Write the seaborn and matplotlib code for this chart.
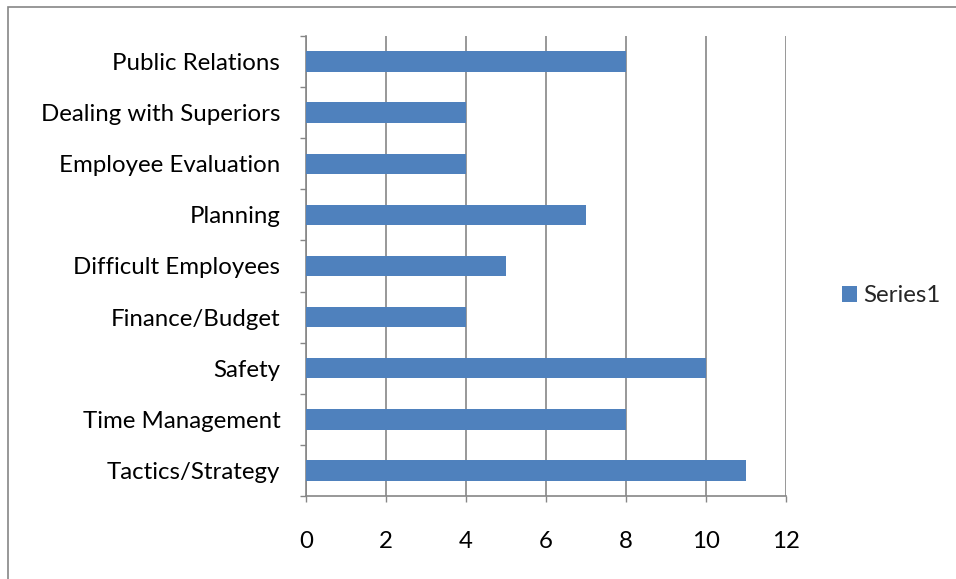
import matplotlib
matplotlib.use("Agg")
import matplotlib.pyplot as plt
import seaborn as sns
import pandas as pd
import numpy as np
from matplotlib.patches import Rectangle, Patch

# Training topics (top to bottom) and their counts
categories = ["Public Relations", "Dealing with Superiors", "Employee Evaluation",
              "Planning", "Difficult Employees", "Finance/Budget", "Safety",
              "Time Management", "Tactics/Strategy"]
values = [8, 4, 4, 7, 5, 4, 10, 8, 11]
x_ticks = [0, 2, 4, 6, 8, 10, 12]
series_name = "Series1"

bar_color = "#4F81BD"
grid_color = "#868686"
font_size = 17.3

sns.set_theme(style="white")
plt.rcParams["font.family"] = ["Lato", "DejaVu Sans"]

df = pd.DataFrame({"topic": categories, "count": values})

fig = plt.figure(figsize=(9.56, 5.79), dpi=100)
ax = fig.add_axes([306 / 956, 1 - 496 / 579, 480 / 956, 460 / 579])

sns.barplot(data=df, x="count", y="topic", order=categories, color=bar_color,
            width=0.4, saturation=1, linewidth=0, ax=ax, zorder=3)

ax.set_xlim(0, 12)
ax.set_ylim(len(categories) - 0.5, -0.5)
ax.set_xticks(x_ticks)
ax.set_xticklabels([str(t) for t in x_ticks], fontsize=font_size)
ax.set_yticks(range(len(categories)))
ax.set_yticklabels(categories, fontsize=font_size)
ax.set_xlabel("")
ax.set_ylabel("")

# Category separators as outward tick marks on the value axis
ax.set_yticks(np.arange(-0.5, len(categories) + 0.5, 1), minor=True)
ax.tick_params(axis="y", which="major", length=0, pad=18.5, colors="black")
ax.tick_params(axis="y", which="minor", left=True, length=4.5, width=1, color=grid_color)
ax.tick_params(axis="x", which="major", bottom=True, length=4.5, width=1,
               pad=20.5, labelcolor="black", color=grid_color)

ax.grid(axis="x", color=grid_color, linewidth=1.2, zorder=0)
ax.set_axisbelow(True)
for side in ["top", "right"]:
    ax.spines[side].set_visible(False)
for side in ["left", "bottom"]:
    ax.spines[side].set_color(grid_color)
    ax.spines[side].set_linewidth(1.2)

# Legend to the right of the plot
handle = Patch(facecolor=bar_color, edgecolor="none")
fig.legend([handle], [series_name], loc="center left",
           bbox_to_anchor=(842 / 956, 1 - 296 / 579), frameon=False,
           fontsize=font_size, handlelength=0.62, handleheight=0.62,
           handletextpad=0.28, borderpad=0, borderaxespad=0)

# Chart-area border
fig.patches.append(Rectangle((8 / 956, -0.1), 1.2, 1 - 7 / 579 + 0.1,
                             transform=fig.transFigure, fill=False,
                             edgecolor=grid_color, linewidth=1.2))

fig.savefig("out.png", dpi=100)
